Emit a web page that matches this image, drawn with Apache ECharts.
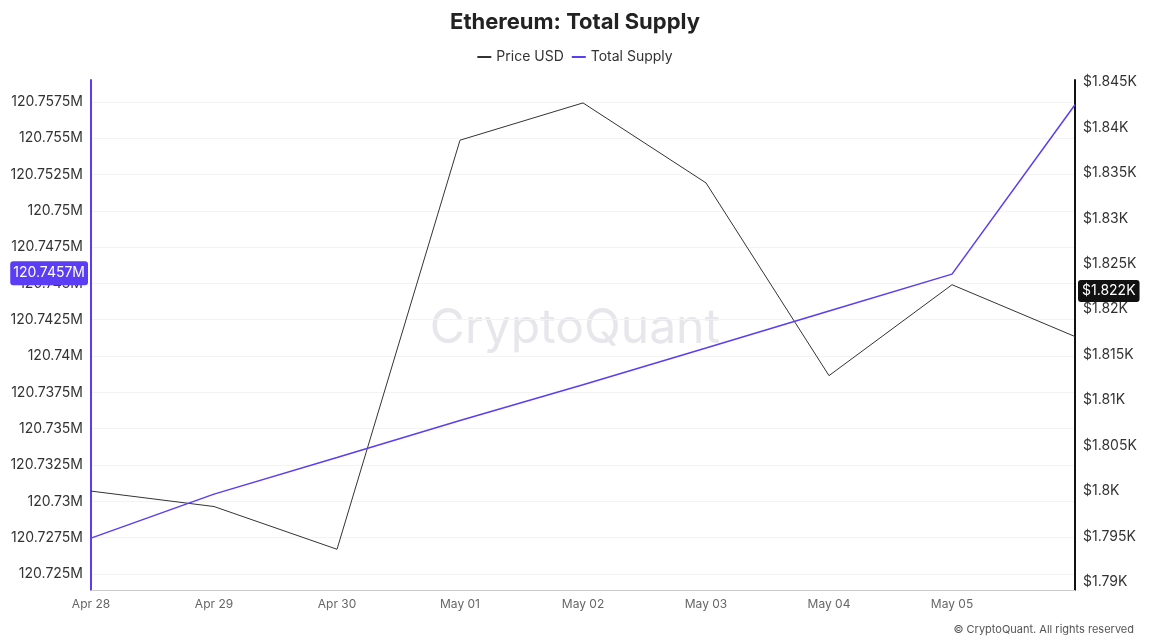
<!DOCTYPE html><html><head><meta charset="utf-8"><script src="https://cdn.jsdelivr.net/npm/echarts@6/dist/echarts.min.js"></script>
<style>html,body{margin:0;padding:0;background:#fff}#c{width:1150px;height:641px}</style></head><body><div id="c"></div><script>
const categories=['Apr 28','Apr 29','Apr 30','May 01','May 02','May 03','May 04','May 05','May 06'];
const priceUSD=[1800.0,1798.3,1793.6,1838.6,1842.7,1833.9,1812.7,1822.7,1817.0];
const totalSupply=[120.72747,120.7305,120.73302,120.73556,120.73803,120.74056,120.7431,120.74564,120.7573];
const leftTicks=[120.725,120.7275,120.73,120.7325,120.735,120.7375,120.74,120.7425,120.745,120.7475,120.75,120.7525,120.755,120.7575];
const rightTicks=[1790,1795,1800,1805,1810,1815,1820,1825,1830,1835,1840,1845];
const lastSupplyLabel=120.7457, lastPriceLabel=1822;
const ch=echarts.init(document.getElementById('c'));
const ff='Inter, "Noto Sans", sans-serif';
ch.setOption({
 title:{text:'Ethereum: Total Supply',left:'center',top:6,textStyle:{fontSize:22,fontWeight:'bold',color:'#222',fontFamily:ff}},
 legend:{top:45,left:'center',itemWidth:14,itemHeight:2,icon:'rect',textStyle:{fontSize:14,color:'#333',fontFamily:ff},data:['Price USD','Total Supply']},
 grid:{left:91,right:75,top:80,bottom:51},
 graphic:[{type:'text',left:'center',top:305,style:{text:'CryptoQuant',fontSize:48,fill:'rgba(200,200,210,0.45)',fontFamily:ff}},
  {type:'text',right:16,bottom:6,style:{text:'© CryptoQuant. All rights reserved',fontSize:11,fill:'#555',fontFamily:ff}}],
 xAxis:{type:'category',data:categories,boundaryGap:false,axisLine:{lineStyle:{color:'#ccc'}},axisTick:{show:false},
  axisLabel:{color:'#666',fontSize:12,fontFamily:ff,interval:0,formatter:(v,i)=>i===8?'':v}},
 yAxis:[{type:'value',position:'left',min:120.7239,max:120.759,
   axisLine:{show:true,lineStyle:{color:'#5b3df5',width:2}},splitLine:{show:true,lineStyle:{color:'#f3f3f3'}},
   axisTick:{show:false,customValues:leftTicks},
   axisLabel:{customValues:leftTicks,color:'#333',fontSize:14,fontFamily:ff,formatter:v=>(+(+v).toFixed(4))+'M'},
   axisPointer:{show:true,status:'show',value:lastSupplyLabel,triggerTooltip:false,lineStyle:{color:'rgba(0,0,0,0)'},
    label:{show:true,formatter:'120.7457M',backgroundColor:'#5b3df5',color:'#fff',padding:[5,3],fontSize:14,fontFamily:ff}}},
  {type:'value',position:'right',min:1789.12,max:1845.22,
   axisLine:{show:true,lineStyle:{color:'#111',width:2}},splitLine:{show:false},
   axisTick:{show:false,customValues:rightTicks},
   axisLabel:{customValues:rightTicks,color:'#333',fontSize:14,fontFamily:ff,formatter:v=>'$'+(+(v/1000).toFixed(3))+'K'},
   axisPointer:{show:true,status:'show',value:lastPriceLabel,triggerTooltip:false,lineStyle:{color:'rgba(0,0,0,0)'},
    label:{show:true,formatter:'$1.822K',backgroundColor:'#111',color:'#fff',padding:[4,4],fontSize:14,fontFamily:ff}}}],
 series:[
  {name:'Price USD',type:'line',yAxisIndex:1,data:priceUSD,symbol:'none',lineStyle:{color:'#333',width:1},itemStyle:{color:'#333'}},
  {name:'Total Supply',type:'line',yAxisIndex:0,data:totalSupply,symbol:'none',lineStyle:{color:'#5b3df5',width:1.5},itemStyle:{color:'#5b3df5'}}
 ]});
</script></body></html>
